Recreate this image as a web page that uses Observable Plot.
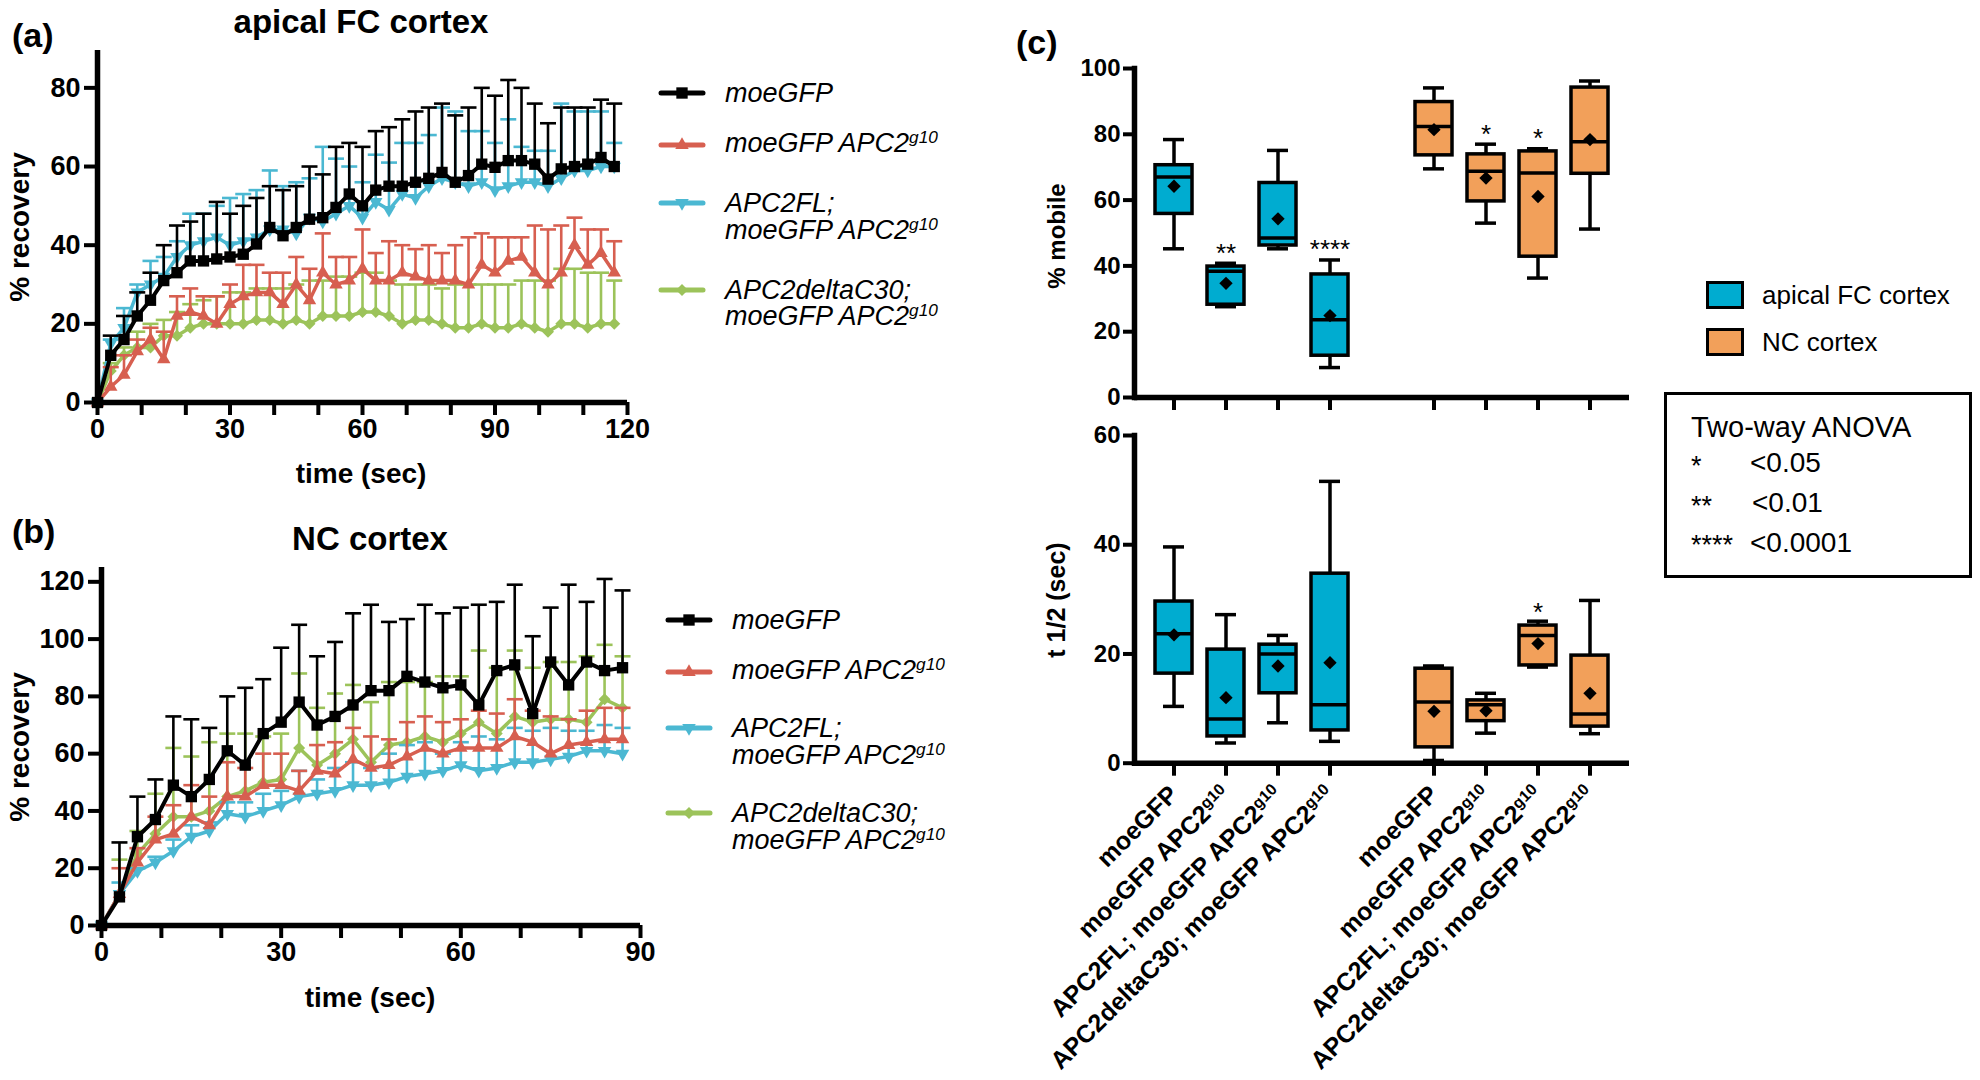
<!DOCTYPE html>
<html><head><meta charset="utf-8">
<script src="https://cdn.jsdelivr.net/npm/d3@7"></script>
<script src="https://cdn.jsdelivr.net/npm/@observablehq/plot@0.6"></script>
<style>
html,body{margin:0;padding:0;background:#fff;}
body{width:1980px;height:1080px;position:relative;overflow:hidden;font-family:"Liberation Sans",Arial,Helvetica,sans-serif;color:#000;}
.abs{position:absolute;white-space:nowrap;}
.b{font-weight:bold;}
.ctr{transform:translate(-50%,-50%);}
.rot{transform:translate(-50%,-50%) rotate(-90deg);}
.vc{transform:translate(0,-50%);}
.sup{font-size:0.64em;position:relative;top:-0.5em;}
.lg{font-style:italic;font-size:27px;line-height:29px;}
svg{overflow:visible;}
</style></head><body>
<div id="figA" class="abs" style="left:0;top:0;width:660px;height:500px"></div>
<div id="figB" class="abs" style="left:0;top:510px;width:660px;height:520px"></div>
<div id="figC1" class="abs" style="left:1000px;top:0;width:660px;height:420px"></div>
<div id="figC2" class="abs" style="left:1000px;top:400px;width:660px;height:680px"></div>

<div class="abs b vc" style="left:12px;top:35px;font-size:34px">(a)</div>
<div class="abs b ctr" style="left:361px;top:22px;font-size:33px">apical FC cortex</div>
<div class="abs b ctr" style="left:361px;top:474px;font-size:28px">time (sec)</div>
<div class="abs b rot" style="left:20px;top:227px;font-size:28px">% recovery</div>

<div class="abs b vc" style="left:12px;top:531px;font-size:34px">(b)</div>
<div class="abs b ctr" style="left:370px;top:539px;font-size:33px">NC cortex</div>
<div class="abs b ctr" style="left:370px;top:998px;font-size:28px">time (sec)</div>
<div class="abs b rot" style="left:20px;top:747px;font-size:28px">% recovery</div>

<div class="abs b vc" style="left:1016px;top:42px;font-size:34px">(c)</div>
<div class="abs b rot" style="left:1057px;top:236px;font-size:24px">% mobile</div>
<div class="abs b rot" style="left:1056px;top:600px;font-size:25px">t 1/2 (sec)</div>

<div id="legA"></div><div id="legB"></div><div id="legC"></div>

<div class="abs" style="left:1664px;top:392px;width:308px;height:186px;box-sizing:border-box;border:3px solid #000"></div>
<div class="abs vc" style="left:1691px;top:427px;font-size:29px">Two-way ANOVA</div>
<div class="abs vc" style="left:1691px;top:466px;font-size:27px">*</div>
<div class="abs vc" style="left:1750px;top:463px;font-size:28px">&lt;0.05</div>
<div class="abs vc" style="left:1691px;top:506px;font-size:27px">**</div>
<div class="abs vc" style="left:1752px;top:503px;font-size:28px">&lt;0.01</div>
<div class="abs vc" style="left:1691px;top:545px;font-size:27px">****</div>
<div class="abs vc" style="left:1750px;top:543px;font-size:28px">&lt;0.0001</div>

<script>
// ---------------- DATA ----------------
const seriesNames = ["moeGFP", "moeGFP APC2^g10", "APC2FL; moeGFP APC2^g10", "APC2deltaC30; moeGFP APC2^g10"];

// Panel (a): apical FC cortex, % recovery (mean and mean+SD)
const timeA = [0,3,6,9,12,15,18,21,24,27,30,33,36,39,42,45,48,51,54,57,60,63,66,69,72,75,78,81,84,87,90,93,96,99,102,105,108,111,114,117];
const moeA      = [0,12,16,22,26,31,33,36,36,36.5,37,37.7,40.3,44.5,42.4,44.5,46.6,47,49.6,53,50,54,55,55,56,57,58.5,56,57.7,60.6,59.8,61.5,61.5,60.6,56.8,59.4,60,60.6,62.3,60];
const moeA_hi   = [0,17,22,28,33,40,45,46,48,51,48,50,52,55,54,55,60,58,65,66,65,69,70,72,74,75,76,73,75,80,78,82,80,76,71,75,75,75,77,76];
const g10A      = [0,4,7,13,16,11,22,23,22,20,25,27,28,28,25,30,26,33,30,31,34,31,31,33,32,31,31,31,30,35,33,36,37,33,30,33,40,35,38,33];
const g10A_hi   = [0,9,12,16,19,18,27,29,27,27,30,35,35,33,33,37,34,43,37,37,44,38,41,40,39,40,38,40,42,43,42,42,42,45,44,45,47,44,44,41];
const flA       = [0,15,19,28,30,32,37,40,41,42,40,41,42,44,44,43,47,46,48,50,47,51,49,53,52,55,57,56,55,56,54,55,56,56,55,57,59,59,60,60];
const flA_hi    = [0,16,24,30,36,37,41,48,48,50,52,53,54,59,55,56,57,65,62,60,56,63,61,66,66,68,75,74,69,69,66,72,65,64,64,76,74,74,74,66];
const dcA       = [0,8,12,14,14,17,17,19,20,20,20,20,21,21,20,21,20,22,22,22,23,23,22,20,21,21,20,19,19,20,19,19,20,19,18,20,20,19,20,20];
const dcA_hi    = [0,10,14,18,20,21,23,25,26,27,28,28,29,29,29,30,31,31,32,32,33,33,31,30,30,30,29,30,30,30,30,30,31,31,31,34,34,33,33,31];

// Panel (b): NC cortex
const timeB = [0,3,6,9,12,15,18,21,24,27,30,33,36,39,42,45,48,51,54,57,60,63,66,69,72,75,78,81,84,87];
const moeB      = [0,10,31,37,49,45,51,61,56,67,71,78,70,73,77,82,82,87,85,83,84,77,89,91,74,92,84,92,89,90];
const moeB_hi   = [0,29,45,51,73,72,69,80,83,86,97,105,94,99,109,112,106,107,112,109,111,112,113,119,101,111,119,113,121,117];
const g10B      = [0,11,22,30,32,38,35,45,45,49,49,47,54,53,58,55,56,59,62,60,62,62,62,66,64,60,63,64,65,65];
const g10B_hi   = [0,20,27,38,42,49,45,57,55,60,60,54,63,64,69,66,65,71,73,71,72,75,74,79,75,73,72,75,76,76];
const flB       = [0,11,19,22,26,31,33,39,38,40,42,45,46,47,49,49,50,52,53,54,56,54,55,57,57,58,59,61,61,60];
const flB_hi    = [0,15,20,24,30,35,36,43,43,46,47,54,51,55,57,55,60,63,64,60,64,66,65,69,68,69,68,68,70,69];
const dcB       = [0,11,25,32,38,38,40,45,47,50,51,62,56,60,65,57,63,64,66,64,67,71,67,73,71,72,72,71,79,76];
const dcB_hi    = [0,23,33,46,62,59,64,67,67,66,67,88,76,81,84,78,85,85,85,87,87,96,90,96,90,92,92,94,98,94];

const xTicksA = [0,10,20,30,40,50,60,70,80,90,100,110,120];
const xLabelsA = [0,30,60,90,120];
const yTicksA = [0,20,40,60,80];
const xTicksB = [0,10,20,30,40,50,60,70,80,90];
const xLabelsB = [0,30,60,90];
const yTicksB = [0,20,40,60,80,100,120];

// Panel (c): box plots (min, Q1, median, Q3, max, mean)
const tissues = ["apical FC cortex", "NC cortex"];
const genotypes = ["moeGFP", "moeGFP APC2^g10", "APC2FL; moeGFP APC2^g10", "APC2deltaC30; moeGFP APC2^g10"];
const mobMin  = [45.2, 27.6, 45.2, 9.1, 69.5, 53, 36.3, 51.2];
const mobQ1   = [55.8, 28.2, 46.2, 12.7, 73.6, 59.6, 42.8, 68];
const mobMed  = [67, 38.4, 48.5, 23.6, 82.4, 68.8, 68.2, 77.7];
const mobQ3   = [70.6, 39.8, 65.2, 37.4, 89.8, 73.9, 74.8, 94.2];
const mobMax  = [78.4, 40.8, 75.1, 41.8, 94.1, 77, 75.6, 96.2];
const mobMean = [64.2, 34.7, 54.3, 24.9, 81.4, 66.7, 61.1, 78.4];
const mobSig  = ["", "**", "", "****", "", "*", "*", ""];
const thMin  = [10.4, 3.7, 7.4, 4, 0.5, 5.5, 17.6, 5.4];
const thQ1   = [16.4, 4.9, 12.8, 6, 2.9, 7.7, 17.9, 6.7];
const thMed  = [23.7, 8.1, 20, 10.7, 11.2, 10.7, 23.4, 9];
const thQ3   = [29.6, 20.8, 21.7, 34.7, 17.3, 11.5, 25.2, 19.7];
const thMax  = [39.6, 27.2, 23.4, 51.6, 17.8, 12.8, 26, 29.8];
const thMean = [23.5, 12, 17.8, 18.4, 9.5, 9.6, 21.9, 12.8];
const thSig  = ["", "", "", "", "", "", "*", ""];
const yTicksMob = [0,20,40,60,80,100];
const yTicksTh = [0,20,40,60];

// ---------------- STYLE ----------------
const seriesColors = ["#000000", "#d75f50", "#4bb8d2", "#9cc35a"];
const tissueColors = ["#00acd0", "#f2a05a"];
const FONT = '"Liberation Sans", Arial, Helvetica, sans-serif';

const triangleDown = {draw(ctx, size) {
  const y = -Math.sqrt(size / (Math.sqrt(3) * 3));
  ctx.moveTo(0, -y * 2); ctx.lineTo(-Math.sqrt(3) * y, y); ctx.lineTo(Math.sqrt(3) * y, y); ctx.closePath();
}};
const capSymbol = {draw(ctx, size) {
  const r = Math.sqrt(size / Math.PI); ctx.moveTo(-r, 0); ctx.lineTo(r, 0);
}};
const seriesSymbols = ["square", "triangle", triangleDown, "diamond2"];
const seriesR = [6.4, 5, 5, 5.4];

function supify(root) {
  root.querySelectorAll("text, tspan").forEach(node => {
    if (node.childNodes.length === 1 && node.firstChild.nodeType === 3 && node.textContent.includes("^")) {
      const [base, sup] = node.textContent.split("^");
      node.textContent = base;
      const ts = document.createElementNS("http://www.w3.org/2000/svg", "tspan");
      ts.setAttribute("dy", "-0.5em"); ts.setAttribute("font-size", "0.64em");
      ts.textContent = sup; node.appendChild(ts);
    }
  });
}

function lineChart(el, o) {
  const marks = [];
  for (let s = 3; s >= 0; s--) {
    const data = o.time.map((t, i) => ({t, m: o.means[s][i], h: o.his[s][i]}));
    const eb = data.filter(d => d.h > d.m);
    const c = seriesColors[s];
    marks.push(Plot.ruleX(eb, {x: "t", y1: "m", y2: "h", stroke: c, strokeWidth: 2.6}));
    marks.push(Plot.dot(eb, {x: "t", y: "h", symbol: capSymbol, r: 8, stroke: c, strokeWidth: 2.6, fill: "none"}));
    marks.push(Plot.line(data, {x: "t", y: "m", stroke: c, strokeWidth: s === 0 ? 4 : 3.5}));
    marks.push(Plot.dot(data, {x: "t", y: "m", symbol: seriesSymbols[s], r: seriesR[s], fill: c, stroke: "none"}));
  }
  marks.push(Plot.axisX({ticks: o.xTicks, tickFormat: d => o.xLabels.includes(d) ? String(d) : "", tickSize: 13, tickPadding: 3, strokeWidth: 4, fontSize: 27, fontWeight: "bold", label: null}));
  marks.push(Plot.axisY({ticks: o.yTicks, tickSize: 13, tickPadding: 4, strokeWidth: 4, fontSize: 27, fontWeight: "bold", label: null}));
  marks.push(Plot.ruleX([o.xDomain[0]], {strokeWidth: 5.5}));
  marks.push(Plot.ruleY([0], {strokeWidth: 5.5}));
  const svg = Plot.plot({
    width: o.width, height: o.height,
    marginLeft: o.mL, marginRight: o.mR, marginTop: o.mT, marginBottom: o.mB,
    x: {domain: o.xDomain}, y: {domain: o.yDomain},
    style: {background: "transparent", fontFamily: FONT, fontSize: "27px", fontWeight: "bold", color: "#000", overflow: "visible"},
    marks
  });
  el.appendChild(svg);
}

lineChart(document.getElementById("figA"), {
  time: timeA, means: [moeA, g10A, flA, dcA], his: [moeA_hi, g10A_hi, flA_hi, dcA_hi],
  width: 660, height: 500, mL: 97, mR: 33, mT: 50, mB: 98,
  xDomain: [0, 120], yDomain: [0, 89.5], xTicks: xTicksA, xLabels: xLabelsA, yTicks: yTicksA
});
lineChart(document.getElementById("figB"), {
  time: timeB, means: [moeB, g10B, flB, dcB], his: [moeB_hi, g10B_hi, flB_hi, dcB_hi],
  width: 660, height: 520, mL: 101, mR: 20, mT: 57, mB: 105,
  xDomain: [0, 90], yDomain: [0, 125], xTicks: xTicksB, xLabels: xLabelsB, yTicks: yTicksB
});

// ---------------- BOX PLOTS ----------------
const keys = [];
tissues.forEach(t => genotypes.forEach(g => keys.push(t + "|" + g)));
const xDomainC = [...keys.slice(0, 4), "gap", ...keys.slice(4)];

function boxChart(el, o) {
  const data = keys.map((k, i) => ({
    key: k, tissue: k.split("|")[0],
    min: o.min[i], q1: o.q1[i], med: o.med[i], q3: o.q3[i], max: o.max[i], mean: o.mean[i], sig: o.sig[i]
  }));
  const svg = Plot.plot({
    width: 660, height: o.height, marginLeft: 134, marginRight: 31, marginTop: o.mT, marginBottom: o.mB,
    x: {domain: xDomainC, type: "band", paddingInner: 0.285, paddingOuter: 0.368},
    y: {domain: o.yDomain},
    color: {domain: tissues, range: tissueColors},
    style: {background: "transparent", fontFamily: FONT, fontSize: "24px", fontWeight: "bold", color: "#000", overflow: "visible"},
    marks: [
      Plot.ruleX(data, {x: "key", y1: "min", y2: "q1", strokeWidth: 3.5}),
      Plot.ruleX(data, {x: "key", y1: "q3", y2: "max", strokeWidth: 3.5}),
      Plot.tickY(data, {x: "key", y: "min", strokeWidth: 3.5, insetLeft: 8, insetRight: 8}),
      Plot.tickY(data, {x: "key", y: "max", strokeWidth: 3.5, insetLeft: 8, insetRight: 8}),
      Plot.barY(data, {x: "key", y1: "q1", y2: "q3", fill: "tissue", stroke: "#000", strokeWidth: 3.5}),
      Plot.tickY(data, {x: "key", y: "med", strokeWidth: 3.5}),
      Plot.dot(data, {x: "key", y: "mean", symbol: "diamond2", r: 6, fill: "#000"}),
      Plot.text(data.filter(d => d.sig), {x: "key", y: d => d.max + o.sigGap, text: "sig", fontSize: 26, fontWeight: "normal", lineAnchor: "middle"}),
      Plot.axisY({ticks: o.yTicks, tickSize: 11, tickPadding: 3, strokeWidth: 4, fontSize: 24, fontWeight: "bold", label: null}),
      Plot.axisX({ticks: keys, tickSize: 13, tickPadding: o.labels ? 14 : 2, strokeWidth: 4, label: null, fontSize: 25, fontWeight: "bold",
        tickRotate: o.labels ? -45 : 0, tickFormat: d => o.labels ? d.split("|")[1] : ""}),
      Plot.ruleY([0], {strokeWidth: 5.5}),
      Plot.frame({anchor: "left", strokeWidth: 5.5})
    ]
  });
  supify(svg);
  el.appendChild(svg);
}

boxChart(document.getElementById("figC1"), {
  min: mobMin, q1: mobQ1, med: mobMed, q3: mobQ3, max: mobMax, mean: mobMean, sig: mobSig,
  height: 420, mT: 68, mB: 23, yDomain: [0, 100], yTicks: yTicksMob, labels: false, sigGap: 3
});
boxChart(document.getElementById("figC2"), {
  min: thMin, q1: thQ1, med: thMed, q3: thQ3, max: thMax, mean: thMean, sig: thSig,
  height: 680, mT: 35, mB: 317.3, yDomain: [0, 60], yTicks: yTicksTh, labels: true, sigGap: 1.6
});

// ---------------- LEGENDS ----------------
function htmlLabel(s) { return s.replace(/\^(\S+)/, '<span class="sup">$1</span>'); }
function lineLegend(container, x0, xText, rowsY) {
  seriesNames.forEach((name, s) => {
    const ys = rowsY[s];
    const sw = document.createElement("div");
    sw.className = "abs";
    sw.style.left = x0 + "px"; sw.style.top = (ys[0] - 10) + "px";
    const sym = seriesSymbols[s] === "square" ? d3.symbolSquare : seriesSymbols[s] === "triangle" ? d3.symbolTriangle : seriesSymbols[s] === "diamond2" ? d3.symbolDiamond2 : seriesSymbols[s];
    const path = d3.symbol(sym, seriesR[s] * seriesR[s] * Math.PI)();
    sw.innerHTML = `<svg width="44" height="20"><line x1="1" x2="43" y1="10" y2="10" stroke="${seriesColors[s]}" stroke-width="5" stroke-linecap="round"/><path transform="translate(22,10)" d="${path}" fill="${seriesColors[s]}"/></svg>`;
    container.appendChild(sw);
    const parts = name.split("; ");
    parts.forEach((p, j) => {
      const t = document.createElement("div");
      t.className = "abs lg vc";
      t.style.left = xText + "px"; t.style.top = ys[j] + "px";
      t.innerHTML = htmlLabel(p + (j < parts.length - 1 ? ";" : ""));
      container.appendChild(t);
    });
  });
}
lineLegend(document.getElementById("legA"), 660, 725, [[93], [145], [203, 232], [290, 318]]);
lineLegend(document.getElementById("legB"), 667, 732, [[620], [672], [728, 757], [813, 842]]);

const legC = document.getElementById("legC");
tissues.forEach((t, i) => {
  const cy = [295, 342][i];
  const r = document.createElement("div");
  r.className = "abs";
  r.style.cssText = `left:1706px;top:${cy - 14}px;width:38px;height:28px;box-sizing:border-box;border:3.5px solid #000;background:${tissueColors[i]}`;
  legC.appendChild(r);
  const tx = document.createElement("div");
  tx.className = "abs vc"; tx.style.cssText += `left:1762px;top:${cy}px;font-size:26px`;
  tx.textContent = t;
  legC.appendChild(tx);
});
</script>
</body></html>
